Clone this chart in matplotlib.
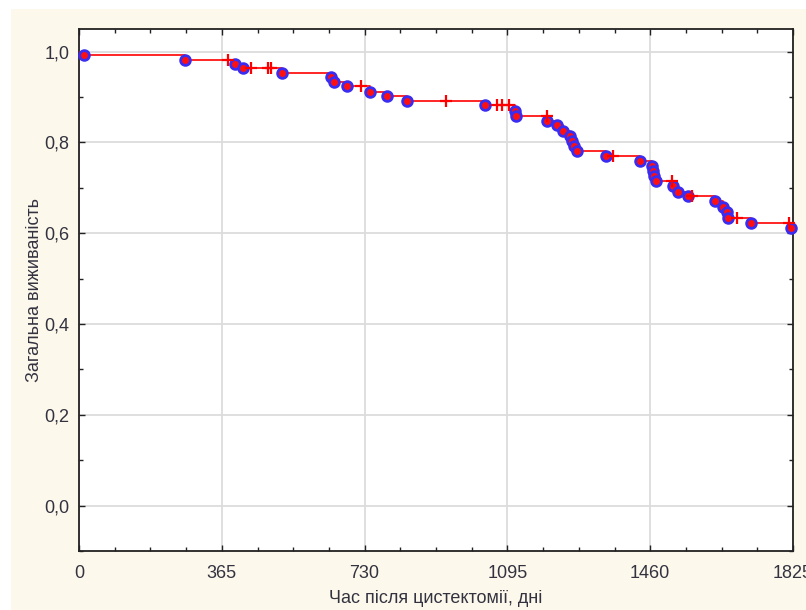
import numpy as np
import matplotlib.pyplot as plt
from matplotlib.patches import Rectangle
from matplotlib.ticker import FixedLocator, MultipleLocator

# Події (смерть): час, дні та значення виживаності після події
event_days = [12, 271, 399, 419, 519, 644, 652, 684, 744, 787, 838,
              1038, 1114, 1117, 1197, 1222, 1237, 1256, 1259, 1265, 1272,
              1346, 1435, 1465, 1467, 1470, 1474, 1517, 1530, 1556,
              1626, 1647, 1656, 1660, 1718, 1820]
event_surv = [0.992, 0.982, 0.973, 0.965, 0.954, 0.945, 0.934, 0.924, 0.912, 0.902, 0.891,
              0.882, 0.870, 0.859, 0.848, 0.839, 0.826, 0.815, 0.803, 0.792, 0.781,
              0.770, 0.759, 0.749, 0.738, 0.727, 0.716, 0.704, 0.692, 0.682,
              0.671, 0.658, 0.646, 0.634, 0.623, 0.612]

# Цензуровані спостереження
cens_days = [381, 440, 484, 490, 721, 938, 1068, 1081, 1099, 1196,
             1366, 1515, 1568, 1681, 1816]
cens_surv = [0.982, 0.965, 0.965, 0.965, 0.924, 0.891, 0.882, 0.882, 0.882, 0.859,
             0.770, 0.716, 0.682, 0.634, 0.623]

x_ticks = [0, 365, 730, 1095, 1460, 1825]
y_ticks = [0.0, 0.2, 0.4, 0.6, 0.8, 1.0]
y_tick_labels = ['0,0', '0,2', '0,4', '0,6', '0,8', '1,0']

font = ['Liberation Sans Narrow', 'Liberation Sans', 'DejaVu Sans']
plt.rcParams['font.family'] = font

fig = plt.figure(figsize=(8.06, 6.10), dpi=100, facecolor='white')
# кремовий фон сторінки
fig.patches.append(Rectangle((11 / 806, 0), 1, 1 - 9 / 610, transform=fig.transFigure,
                             facecolor='#fdf8ec', edgecolor='none', zorder=-10))
ax = fig.add_axes([79 / 806, 1 - 551 / 610, 714 / 806, 522 / 610])
ax.set_zorder(5)
ax.set_facecolor('white')

# ступінчаста крива Каплана-Мейєра
step_x = [0] + event_days + [1825]
step_y = [1.0] + event_surv + [event_surv[-1]]
ax.step(step_x, step_y, where='post', color='#ff0000', lw=1.2, zorder=3)
ax.plot(event_days, event_surv, 'o', ms=7, mfc='#ff1010', mec='#3a2cf0', mew=2,
        zorder=4, clip_on=False)
ax.plot(cens_days, cens_surv, '+', ms=8.5, color='#ff0000', mew=1.6, zorder=4, clip_on=False)

ax.set_xlim(0, 1825)
ax.set_ylim(-0.1, 1.05)
ax.xaxis.set_major_locator(FixedLocator(x_ticks))
ax.xaxis.set_minor_locator(MultipleLocator(365 / 4))
ax.yaxis.set_major_locator(FixedLocator(y_ticks))
ax.yaxis.set_minor_locator(MultipleLocator(0.1))
ax.set_yticklabels(y_tick_labels)

ax.grid(True, which='major', color='#dcdcdc', lw=1.3, zorder=0)
ax.set_axisbelow(True)
for s in ax.spines.values():
    s.set_linewidth(1.3)
    s.set_color('#222222')

ax.tick_params(which='both', direction='in', top=True, right=True, colors='#222222',
               labelcolor='#333340', labelsize=13)
ax.tick_params(which='major', length=4, width=1)
ax.tick_params(which='minor', length=3, width=1)
ax.tick_params(axis='x', pad=10)
ax.tick_params(axis='y', pad=7)

ax.set_xlabel('Час після цистектомії, дні', fontsize=13, color='#333340', labelpad=6)
ax.set_ylabel('Загальна виживаність', fontsize=13, color='#333340', labelpad=1)

fig.savefig('out.png', dpi=100, facecolor=fig.get_facecolor())
